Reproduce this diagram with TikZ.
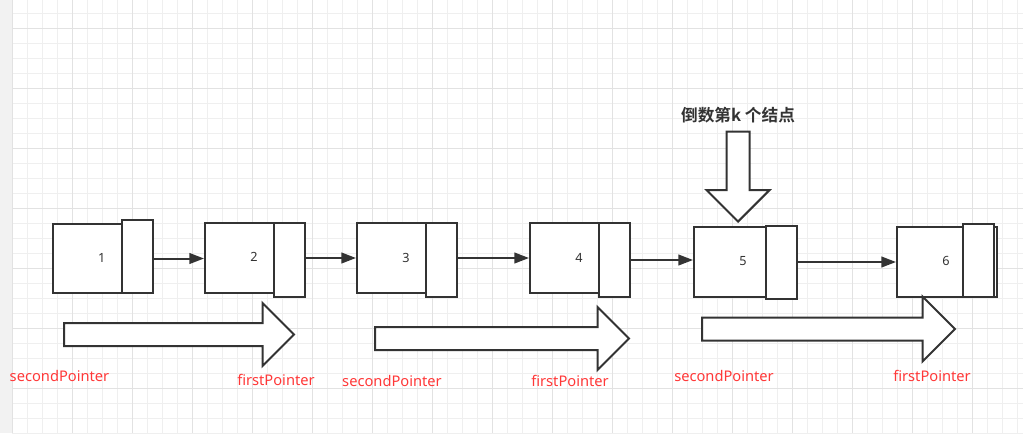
\documentclass[tikz,border=0pt]{standalone}
\usepackage{fontspec}
\setmainfont{Noto Sans}
\newfontfamily\cjk{Noto Sans CJK SC}[BoldFont={Noto Sans CJK SC Bold}]
\usetikzlibrary{shapes,arrows.meta,positioning,calc}
\definecolor{linegray}{HTML}{333333}
\definecolor{ptrred}{HTML}{FF3838}
\definecolor{gridminor}{HTML}{EFEFEF}
\definecolor{gridmajor}{HTML}{E2E2E2}
\definecolor{sidebar}{HTML}{F2F2F2}
\def\px{0.75pt}

\begin{document}
\begin{tikzpicture}[x=0.75pt, y=-0.75pt,
    cell/.style={draw=linegray, line width=1.5pt, fill=white, inner sep=0pt, anchor=north west},
    num/.style={text=linegray, font=\fontsize{9.5}{11}\selectfont, inner sep=0pt},
    link/.style={draw=linegray, line width=1.5pt, -{Triangle[length=11pt,width=8pt]}},
    bigarrow/.style={single arrow, draw=linegray, line width=1.5pt, fill=white, inner sep=10.5*\px,
        single arrow head extend=20*\px, single arrow head indent=0pt, single arrow tip angle=90, anchor=tail},
    ptr/.style={text=ptrred, font=\fontsize{11}{13}\selectfont, inner sep=0pt}]
    \useasboundingbox (0,0) rectangle (1023,433);

    % Grid paper
    \fill[white] (0,0) rectangle (1023,433);
    \fill[sidebar] (0,0) rectangle (12,433);
    \foreach \gx in {0,...,67} \draw[gridminor, line width=0.75pt] ({12.7+15*\gx},0) -- ({12.7+15*\gx},433);
    \foreach \gy in {0,...,28} \draw[gridminor, line width=0.75pt] (12,{13.3+15*\gy}) -- (1023,{13.3+15*\gy});
    \foreach \gx in {0,...,16} \draw[gridmajor, line width=0.75pt] ({12.7+60*\gx},0) -- ({12.7+60*\gx},433);
    \foreach \gy in {0,...,6} \draw[gridmajor, line width=0.75pt] (12,{28.3+60*\gy}) -- (1023,{28.3+60*\gy});

    % List nodes
    \node[cell, minimum width=69*\px, minimum height=69*\px] (m1) at (52,223) {};
    \node[cell, minimum width=31*\px, minimum height=73*\px] (s1) at (121,219) {};
    \node[num] (t1) at (101.7,258) {1};

    \node[cell, minimum width=69*\px, minimum height=70*\px] (m2) at (204,222) {};
    \node[cell, minimum width=31*\px, minimum height=74*\px] (s2) at (273,222) {};
    \node[num] (t2) at (254,257) {2};

    \node[cell, minimum width=69*\px, minimum height=70*\px] (m3) at (356,222) {};
    \node[cell, minimum width=31*\px, minimum height=74*\px] (s3) at (425,222) {};
    \node[num] (t3) at (406,258) {3};

    \node[cell, minimum width=69*\px, minimum height=70*\px] (m4) at (529,222) {};
    \node[cell, minimum width=31*\px, minimum height=74*\px] (s4) at (598,222) {};
    \node[num] (t4) at (579,258) {4};

    \node[cell, minimum width=72*\px, minimum height=70*\px] (m5) at (693,226) {};
    \node[cell, minimum width=31*\px, minimum height=73*\px] (s5) at (765,225) {};
    \node[num] (t5) at (743,261) {5};

    \node[cell, minimum width=66*\px, minimum height=70*\px] (m6) at (896,226) {};
    \node[cell, minimum width=34*\px, minimum height=70*\px] (b6) at (962,226) {};
    \node[cell, minimum width=31*\px, minimum height=73*\px] (s6) at (962,223) {};
    \node[num] (t6) at (946,261) {6};

    % Next pointers
    \draw[link] (s1.east |- m1.center) -- (m2.west |- m1.center);
    \draw[link] (s2.east |- m2.center) -- (m3.west |- m2.center);
    \draw[link] (s3.east |- m3.center) -- (m4.west |- m3.center);
    \draw[link] (s4.east) -- (s4.east -| m5.west);
    \draw[link] (s5.east |- m5.center) -- (m6.west |- m5.center);

    % k-th node from the end
    \node[bigarrow, shape border rotate=270, minimum height=90*\px, anchor=tip] (kdown) at (738,223) {};
    \node[text=linegray, font=\cjk\bfseries\fontsize{12.5}{14}\selectfont] (khead) at (738,115) {倒数第k 个结点};

    % Two pointers moving along
    \node[bigarrow, minimum height=230*\px] (p1) at (63,334.5) {};
    \node[ptr] (sp1) at (59.5,376) {secondPointer};
    \node[ptr] (fp1) at (276,380) {firstPointer};

    \node[bigarrow, minimum height=254*\px] (p2) at (374,338.5) {};
    \node[ptr] (sp2) at (392,381) {secondPointer};
    \node[ptr] (fp2) at (570,381) {firstPointer};

    \node[bigarrow, minimum height=253*\px, single arrow head extend=21*\px] (p3) at (701,329) {};
    \node[ptr] (sp3) at (724,376) {secondPointer};
    \node[ptr] (fp3) at (932,376) {firstPointer};
\end{tikzpicture}
\end{document}
